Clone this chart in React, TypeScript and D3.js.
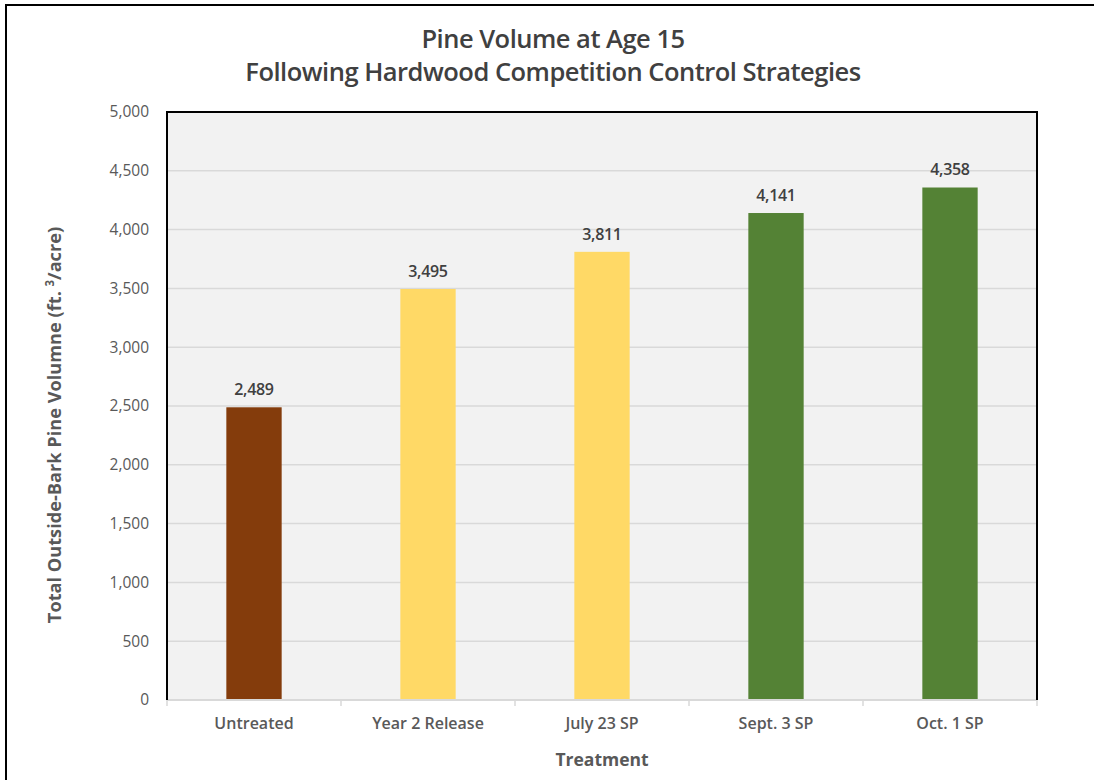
import React from "react";
import * as d3 from "d3";

const categories = ["Untreated", "Year 2 Release", "July 23 SP", "Sept. 3 SP", "Oct. 1 SP"];
const values = [2489, 3495, 3811, 4141, 4358];
const barColors = ["#843C0C", "#FFD966", "#FFD966", "#548235", "#548235"];
const yTicks = [0, 500, 1000, 1500, 2000, 2500, 3000, 3500, 4000, 4500, 5000];
const titleLines = ["Pine Volume at Age 15", "Following Hardwood Competition Control Strategies"];

const W = 1094;
const H = 780;
const plot = { left: 167, right: 1037, top: 112, bottom: 700 };

export default function App() {
  const x = d3.scaleBand<string>().domain(categories).range([plot.left, plot.right]).padding(0);
  const y = d3.scaleLinear().domain([0, 5000]).range([plot.bottom, plot.top]);
  const fmt = d3.format(",");
  const barW = x.step() * 0.318;
  const font = "'Open Sans', sans-serif";
  const boundaries = [...categories.map((c) => x(c) as number), plot.right];

  return (
    <svg width={W} height={H} style={{ position: "absolute", left: 0, top: 0, background: "#fff" }}>
      <rect x={6} y={5} width={W + 20} height={H + 20} fill="#fff" stroke="#000" strokeWidth={2} />
      {titleLines.map((t, i) => (
        <text key={i} x={553} y={48 + i * 33} textAnchor="middle" fontFamily={font} fontSize={25.5} fontWeight={550} fill="#404040" letterSpacing={-0.5}>
          {t}
        </text>
      ))}
      <rect x={plot.left} y={plot.top} width={plot.right - plot.left} height={plot.bottom - plot.top} fill="#F2F2F2" />
      {yTicks.slice(1, -1).map((t) => (
        <line key={t} x1={plot.left} x2={plot.right} y1={y(t)} y2={y(t)} stroke="#D9D9D9" strokeWidth={1.5} />
      ))}
      {categories.map((c, i) => {
        const cx = (x(c) as number) + x.bandwidth() / 2;
        return (
          <g key={c}>
            <rect x={cx - barW / 2} y={y(values[i])} width={barW} height={y(0) - y(values[i])} fill={barColors[i]} />
            <text x={cx} y={y(values[i]) - 12} textAnchor="middle" fontFamily={font} fontSize={16} fontWeight={600} fill="#404040" letterSpacing={-0.3}>
              {fmt(values[i])}
            </text>
            <text x={cx} y={729} textAnchor="middle" fontFamily={font} fontSize={16} fontWeight={600} fill="#595959">
              {c}
            </text>
          </g>
        );
      })}
      <line x1={plot.left} x2={plot.right} y1={plot.bottom} y2={plot.bottom} stroke="#D9D9D9" strokeWidth={2} />
      {boundaries.map((b, i) => (
        <line key={i} x1={b} x2={b} y1={plot.bottom} y2={plot.bottom + 6} stroke="#D9D9D9" strokeWidth={1.5} />
      ))}
      <path
        d={`M${plot.left},${plot.bottom}V${plot.top}H${plot.right}V${plot.bottom}`}
        fill="none"
        stroke="#000"
        strokeWidth={2}
      />
      {yTicks.map((t) => (
        <text key={t} x={149} y={y(t)} dy="0.35em" textAnchor="end" fontFamily={font} fontSize={15.5} fontWeight={500} fill="#595959">
          {fmt(t)}
        </text>
      ))}
      <text
        transform={`translate(61,425) rotate(-90)`}
        textAnchor="middle"
        fontFamily={font}
        fontSize={18.2}
        fontWeight={700}
        fill="#595959"
      >
        Total Outside-Bark Pine Volumne (ft.{" "}
        <tspan fontSize={11.5} dy={-7}>3</tspan>
        <tspan dy={7}>/acre)</tspan>
      </text>
      <text x={602} y={766} textAnchor="middle" fontFamily={font} fontSize={17.5} fontWeight={700} fill="#595959">
        Treatment
      </text>
    </svg>
  );
}
